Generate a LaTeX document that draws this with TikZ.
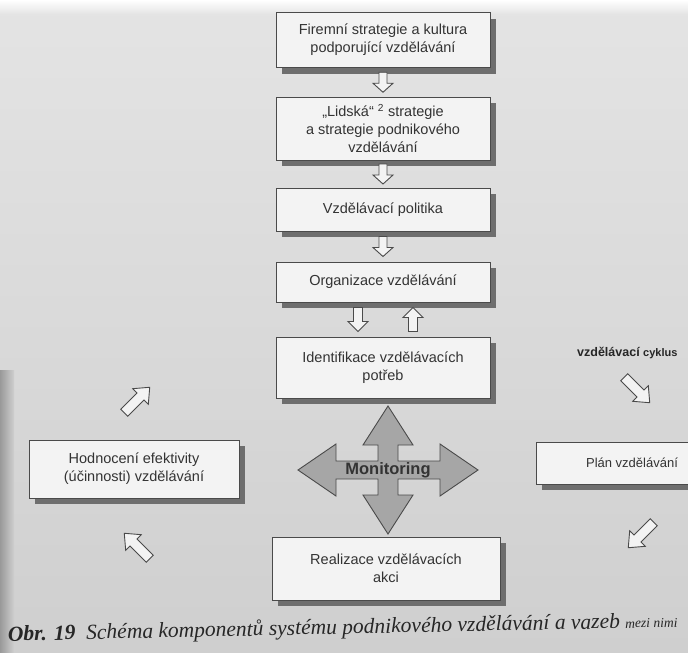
\documentclass[tikz,border=0pt]{standalone}
\usepackage{fontspec}
\setmainfont{Liberation Serif}
\setsansfont{Liberation Sans}
\usetikzlibrary{shadows,calc}
\definecolor{bgtop}{HTML}{E4E4E4}
\definecolor{bgbot}{HTML}{CFCFCF}
\definecolor{boxfill}{HTML}{F3F3F3}
\definecolor{edge}{HTML}{4A4A4A}
\definecolor{shadowc}{HTML}{6E6E6E}
\definecolor{crossfill}{HTML}{A6A6A6}
\definecolor{txt}{HTML}{333333}
\newcommand\blockarrow[6]{%
  \draw[hollow, shift={(#1)}, rotate=#2]
    ({-#3/2},{-#6}) -- ({#3/2-#4},{-#6}) -- ({#3/2-#4},{-#5}) -- ({#3/2},0)
    -- ({#3/2-#4},{#5}) -- ({#3/2-#4},{#6}) -- ({-#3/2},{#6}) -- cycle;}
\begin{document}
\begin{tikzpicture}[x=1pt,y=-1pt,
  box/.style={draw=edge, line width=0.8pt, fill=boxfill, align=center, inner sep=2pt,
    font=\sffamily\fontsize{14.5}{18}\selectfont, text=txt,
    drop shadow={shadow xshift=6pt, shadow yshift=-6pt, fill=shadowc, opacity=1}},
  hollow/.style={draw=edge, line width=0.9pt, fill=boxfill, line join=miter},
  crossst/.style={draw=edge, line width=0.9pt, fill=crossfill, line join=miter},
]
\useasboundingbox (0,0) rectangle (688,653);
\clip (0,0) rectangle (688,653);
\shade[top color=bgtop, bottom color=bgbot] (0,0) rectangle (688,653);
\shade[top color=white, bottom color=bgtop] (0,0) rectangle (688,14);
\shade[left color=black!40, right color=bgbot] (0,370) rectangle (14,653);

% main column
\node[box, minimum width=214pt, minimum height=55pt] (b1) at (383,40)
  {Firemní strategie a kultura\\podporující vzdělávání};
\node[box, minimum width=214pt, minimum height=63pt] (b2) at (383,128.5)
  {„Lidská“ \textsuperscript{2} strategie\\a strategie podnikového\\vzdělávání};
\node[box, minimum width=214pt, minimum height=43pt] (b3) at (383,209.5)
  {Vzdělávací politika};
\node[box, minimum width=214pt, minimum height=40pt] (b4) at (383,282)
  {Organizace vzdělávání};
\node[box, minimum width=214pt, minimum height=61pt] (b5) at (383,367.5)
  {Identifikace vzdělávacích\\potřeb};
\node[box, minimum width=228pt, minimum height=63pt] (b6) at (386,568.5)
  {Realizace vzdělávacích\\akci};
\node[box, minimum width=210pt, minimum height=58pt] (b7) at (134,469)
  {Hodnocení efektivity\\(účinnosti) vzdělávání};
\node[box, minimum width=192pt, minimum height=42pt, font=\sffamily\fontsize{13}{16}\selectfont] (b8) at (632,463)
  {Plán vzdělávání};

% vertical hollow arrows
\blockarrow{$(b1.south)!0.5!(b2.north)$}{-90}{20}{9}{10}{4}
\blockarrow{$(b2.south)!0.5!(b3.north)$}{-90}{20}{9}{10}{4}
\blockarrow{$(b3.south)!0.5!(b4.north)$}{-90}{20}{9}{10}{4}
\blockarrow{$(b4.south)!0.5!(b5.north)+(-25,0)$}{-90}{24}{10}{10}{4.5}
\blockarrow{$(b4.south)!0.5!(b5.north)+(30,0)$}{90}{24}{10}{10}{4.5}

% cycle arrows
\coordinate (aul) at (137,400);
\coordinate (aur) at (637,390);
\coordinate (alr) at (641,535);
\coordinate (all) at (137,546);
\blockarrow{aul}{45}{36}{13}{11}{5}
\blockarrow{aur}{-45}{36}{13}{11}{5}
\blockarrow{alr}{-135}{36}{13}{11}{5}
\blockarrow{all}{135}{36}{13}{11}{5}

% monitoring cross
\coordinate (cc) at (388,470);
\draw[crossst, shift={(cc)}]
  (0,-64) -- (25,-25) -- (10,-25) -- (10,-9) -- (52,-9) -- (52,-26) -- (90,0)
  -- (52,26) -- (52,9) -- (10,9) -- (10,25) -- (25,25) -- (0,64)
  -- (-25,25) -- (-10,25) -- (-10,9) -- (-52,9) -- (-52,26) -- (-90,0)
  -- (-52,-26) -- (-52,-9) -- (-10,-9) -- (-10,-25) -- (-25,-25) -- cycle;
\node[font=\sffamily\bfseries\fontsize{16.5}{18}\selectfont, text=txt, inner sep=0pt] (mon) at (cc) {Monitoring};

\node[font=\sffamily\bfseries\fontsize{12.5}{14}\selectfont, text=black!85, anchor=west, inner sep=0pt] (cyc) at (577,353)
  {vzdělávací {\fontsize{11}{13}\selectfont cyklus}};

% caption
\node[font=\fontsize{21.5}{24}\selectfont\itshape, text=black!85, anchor=base west, inner sep=0pt, rotate=1.2] (cap) at (8,641)
  {\textbf{Obr. 19}\enspace Schéma komponentů systému podnikového vzdělávání a vazeb {\fontsize{13.5}{16}\selectfont mezi nimi}};
\end{tikzpicture}
\end{document}
